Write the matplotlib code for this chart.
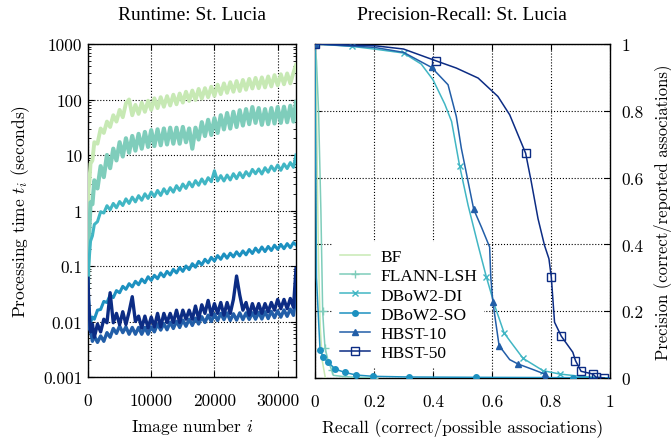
import numpy as np
import matplotlib
matplotlib.use("Agg")
import matplotlib.pyplot as plt
from matplotlib.ticker import LogLocator, NullFormatter, FixedLocator

plt.rcParams['mathtext.fontset'] = 'cm'
plt.rcParams['axes.formatter.use_mathtext'] = True

# ---- runtime data (image number vs processing time in seconds) ----
img = [0, 100, 200, 400, 700, 1000, 1500, 2000] + list(range(2500, 33000, 500)) + [32900]

t_bf = [0.7, 2.5, 3, 7, 8, 17, 16, 30, 25, 40, 32, 52, 40, 65, 48, 85, 100, 52, 80, 55,
        88, 60, 95, 65, 105, 70, 110, 74, 115, 78, 122, 82, 128, 88, 138, 94, 145, 98, 155, 104,
        160, 110, 170, 116, 185, 125, 195, 132, 205, 138, 215, 142, 225, 150, 235, 158, 245, 160, 250, 165,
        260, 172, 275, 180, 285, 188, 295, 195, 305, 420]
t_flann = [0.04, 0.25, 0.4, 1.4, 1.3, 3.5, 2.5, 6.3, 4, 10, 5.8, 13, 8, 17, 9.4, 20, 11, 22, 12, 24,
           13, 26, 14, 28, 14.5, 29, 15, 30, 15.5, 31, 16, 31, 16, 32, 17, 30, 13, 31, 19, 39,
           22, 43, 23, 46, 25, 52, 29, 57, 30, 60, 32, 64, 34, 67, 36, 73, 38, 70, 35, 67,
           36, 70, 37, 73, 38, 74, 39, 77, 40, 90]
t_dbow_di = [0.05, 0.1, 0.14, 0.28, 0.35, 0.56, 0.63, 0.95, 0.9, 1.22, 1.03, 1.34, 1.12, 1.45, 1.23, 1.62, 1.34, 1.74, 1.43, 1.85,
             1.53, 2.0, 1.65, 2.15, 1.78, 2.3, 1.87, 2.46, 2.0, 2.58, 2.14, 2.8, 2.3, 3.0, 2.5, 3.25, 2.67, 3.45, 2.85, 3.7,
             3.0, 3.9, 3.3, 5.2, 3.4, 4.25, 3.4, 4.35, 3.55, 4.6, 3.75, 4.8, 3.9, 5.0, 4.2, 5.5, 4.6, 5.6, 4.55, 5.9,
             4.9, 6.3, 5.2, 6.6, 5.3, 6.9, 5.7, 7.3, 6.0, 10]
t_dbow_so = [0.06, 0.025, 0.016, 0.0095, 0.012, 0.011, 0.016, 0.0165, 0.023, 0.022, 0.03, 0.027, 0.036, 0.033, 0.043, 0.038, 0.048, 0.042, 0.053, 0.046,
             0.058, 0.05, 0.064, 0.055, 0.068, 0.059, 0.075, 0.064, 0.08, 0.069, 0.087, 0.075, 0.094, 0.08, 0.1, 0.086, 0.11, 0.095, 0.121, 0.105,
             0.132, 0.114, 0.143, 0.123, 0.154, 0.132, 0.165, 0.138, 0.17, 0.146, 0.18, 0.152, 0.187, 0.159, 0.198, 0.168, 0.21, 0.177, 0.22, 0.182,
             0.225, 0.19, 0.237, 0.2, 0.245, 0.205, 0.253, 0.214, 0.264, 0.24]
t_hbst10 = [0.03, 0.016, 0.0075, 0.0068, 0.0044, 0.0055, 0.0042, 0.0055, 0.0044, 0.0063, 0.0052, 0.0075, 0.0061, 0.0083, 0.0063, 0.008, 0.0059, 0.0078, 0.0059, 0.0078,
            0.0059, 0.0078, 0.0059, 0.008, 0.0065, 0.009, 0.007, 0.0092, 0.0071, 0.0097, 0.0075, 0.0101, 0.0078, 0.0106, 0.0082, 0.011, 0.0085, 0.0115, 0.009, 0.0122,
            0.0096, 0.013, 0.01, 0.0136, 0.0104, 0.014, 0.0108, 0.0143, 0.0104, 0.0138, 0.0106, 0.0143, 0.0108, 0.0143, 0.0109, 0.0144, 0.011, 0.0146, 0.0111, 0.015,
            0.0113, 0.0152, 0.0117, 0.0156, 0.012, 0.0161, 0.0124, 0.0167, 0.0129, 0.03]
t_hbst50 = [0.06, 0.025, 0.014, 0.0065, 0.009, 0.0052, 0.009, 0.0065, 0.011, 0.0095, 0.033, 0.0095, 0.014, 0.0088, 0.015, 0.0088, 0.015, 0.028, 0.01, 0.0125,
            0.0076, 0.0125, 0.0076, 0.012, 0.008, 0.014, 0.008, 0.014, 0.0096, 0.014, 0.0096, 0.016, 0.0096, 0.016, 0.011, 0.016, 0.011, 0.019, 0.011, 0.02,
            0.014, 0.024, 0.013, 0.021, 0.014, 0.022, 0.013, 0.022, 0.014, 0.025, 0.066, 0.03, 0.016, 0.022, 0.013, 0.021, 0.014, 0.021, 0.014, 0.021,
            0.015, 0.022, 0.016, 0.025, 0.017, 0.025, 0.017, 0.026, 0.018, 0.09]

rt_yticks = [0.001, 0.01, 0.1, 1, 10, 100, 1000]
rt_yticklabels = ['0.001', '0.01', '0.1', '1', '10', '100', '1000']
rt_xticks = [0, 10000, 20000, 30000]

# ---- precision-recall data ----
rec_bf = [0, 0.004, 0.008, 0.012, 0.018, 0.025, 0.035]
prec_bf = [1, 0.9, 0.6, 0.35, 0.15, 0.05, 0]
rec_flann = [0, 0.005, 0.012, 0.02, 0.026, 0.03, 0.034, 0.045, 0.056, 0.062, 0.1, 0.2]
prec_flann = [1, 0.95, 0.8, 0.5, 0.2, 0.14, 0.09, 0.05, 0.025, 0.008, 0.004, 0.0]
rec_di = [0, 0.124, 0.2, 0.3, 0.36, 0.4, 0.44, 0.463, 0.49, 0.519, 0.553, 0.581, 0.609, 0.641, 0.66,
          0.705, 0.773, 0.829, 0.9, 0.95, 1.0]
prec_di = [1, 0.993, 0.985, 0.973, 0.94, 0.893, 0.82, 0.768, 0.636, 0.517, 0.397, 0.302, 0.217, 0.135, 0.112,
           0.059, 0.022, 0.012, 0.005, 0.002, 0.0]
rec_so = [0, 0.005, 0.017, 0.028, 0.045, 0.068, 0.10, 0.139, 0.197, 0.32, 0.547, 0.874, 1.0]
prec_so = [1, 0.3, 0.085, 0.062, 0.047, 0.027, 0.017, 0.009, 0.005, 0.003, 0.002, 0.001, 0.0]
rec_h10 = [0, 0.2, 0.3, 0.395, 0.451, 0.479, 0.496, 0.538, 0.565, 0.592, 0.596, 0.603, 0.624, 0.66, 0.688,
           0.74, 0.778, 0.78]
prec_h10 = [1, 0.99, 0.975, 0.93, 0.878, 0.783, 0.688, 0.505, 0.45, 0.392, 0.30, 0.227, 0.097, 0.055, 0.042,
            0.025, 0.012, 0.0]
rec_h50 = [0, 0.2, 0.3, 0.409, 0.479, 0.553, 0.620, 0.66, 0.714, 0.733, 0.756, 0.778, 0.793, 0.801, 0.812,
           0.835, 0.874, 0.883, 0.902, 0.942, 0.953, 0.981]
prec_h50 = [1, 0.995, 0.985, 0.95, 0.928, 0.898, 0.843, 0.788, 0.673, 0.588, 0.477, 0.397, 0.357, 0.302, 0.167,
            0.125, 0.077, 0.052, 0.02, 0.012, 0.002, 0.0]
pr_ticks = [0, 0.2, 0.4, 0.6, 0.8, 1]
pr_ticklabels = ['0', '0.2', '0.4', '0.6', '0.8', '1']

labels = ['BF', 'FLANN-LSH', 'DBoW2-DI', 'DBoW2-SO', 'HBST-10', 'HBST-50']
colors = ['#c7e9b4', '#7fcdbb', '#41b6c4', '#1d91c0', '#225ea8', '#0c2c84']

cm_font = 'cmr10'
times = 'Liberation Serif'
tick_fs = 12.5

fig = plt.figure(figsize=(6.71, 4.39), dpi=100)
ax1 = fig.add_axes([88 / 671, 61 / 439, 208 / 671, 333 / 439])
ax2 = fig.add_axes([315 / 671, 60 / 439, 295 / 671, 334 / 439])

# runtime panel
rt_series = [t_bf, t_flann, t_dbow_di, t_dbow_so, t_hbst10, t_hbst50]
rt_lw = [2.8, 3.0, 2.2, 2.2, 2.4, 2.4]
for vals, c, w in zip(rt_series, colors, rt_lw):
    ax1.plot(img, vals, color=c, lw=w, zorder=3)
ax1.set_yscale('log')
ax1.set_xlim(0, 32900)
ax1.set_ylim(0.001, 1000)
ax1.yaxis.set_major_locator(FixedLocator(rt_yticks))
ax1.set_yticklabels(rt_yticklabels, fontfamily=cm_font, fontsize=tick_fs)
ax1.yaxis.set_minor_locator(LogLocator(base=10, subs=np.arange(2, 10), numticks=20))
ax1.yaxis.set_minor_formatter(NullFormatter())
ax1.set_xticks(rt_xticks)
ax1.set_xticklabels([str(v) for v in rt_xticks], fontfamily=cm_font, fontsize=tick_fs)
ax1.set_xlabel('Image number $i$', fontfamily=cm_font, fontsize=tick_fs, labelpad=6)
ax1.set_ylabel('Processing time $t_i$ (seconds)', fontfamily=cm_font, fontsize=tick_fs, labelpad=8)

# precision-recall panel
markers = [None, '+', 'x', 'o', '^', 's']
msizes = [0, 6, 5, 4, 5, 5.5]
pr_data = [(rec_bf, prec_bf, None),
           (rec_flann, prec_flann, [0, 4, 6, 8, 11]),
           (rec_di, prec_di, [0, 1, 3, 8, 11, 13, 15, 16, 17]),
           (rec_so, prec_so, [0, 2, 3, 4, 5, 6, 7, 8, 9, 10, 11]),
           (rec_h10, prec_h10, [0, 3, 7, 11, 12, 14, 16, 17]),
           (rec_h50, prec_h50, [0, 3, 8, 13, 15, 17, 18, 19, 20, 21])]
for (r, p, me), c, m, ms, lab in zip(pr_data, colors, markers, msizes, labels):
    kw = dict(color=c, lw=1.1, label=lab, zorder=3)
    if m is not None:
        kw.update(marker=m, markevery=me, markersize=ms, markeredgewidth=1.0)
        if m == 's':
            kw.update(markerfacecolor='none')
    ax2.plot(r, p, **kw)
ax2.set_xlim(0, 1)
ax2.set_ylim(0, 1)
ax2.set_xticks(pr_ticks)
ax2.set_xticklabels(pr_ticklabels, fontfamily=cm_font, fontsize=tick_fs)
ax2.set_yticks(pr_ticks)
ax2.set_yticklabels(pr_ticklabels, fontfamily=cm_font, fontsize=tick_fs)
ax2.yaxis.tick_right()
ax2.yaxis.set_label_position('right')
ax2.set_xlabel('Recall (correct/possible associations)', fontfamily=cm_font, fontsize=tick_fs, labelpad=6)
ax2.set_ylabel('Precision (correct/reported associations)', fontfamily=cm_font, fontsize=12,
               labelpad=7, rotation=90)

leg = ax2.legend(loc='lower left', bbox_to_anchor=(0.043, 0.015), frameon=True, framealpha=1,
                 edgecolor='none', facecolor='white', fancybox=False, borderaxespad=0.3,
                 handlelength=1.72, handletextpad=0.63, labelspacing=0.17,
                 prop={'family': times, 'size': 12.5})
leg.set_zorder(2.5)

for ax in (ax1, ax2):
    ax.grid(True, which='major', ls=':', color='k', lw=0.8, zorder=1)
    ax.set_axisbelow(True)
    ax.tick_params(which='both', direction='in', top=True, bottom=True, left=True, right=True)
    ax.tick_params(which='major', length=4)
    ax.tick_params(which='minor', length=2)
    ax.tick_params(axis='x', pad=11)
    for s in ax.spines.values():
        s.set_linewidth(1.0)
ax1.tick_params(axis='y', pad=4)
ax2.tick_params(axis='y', pad=8)

fig.text(192 / 671, 1 - 16 / 439, 'Runtime: St. Lucia', ha='center', va='center',
         fontfamily=times, fontsize=14)
fig.text(462 / 671, 1 - 16 / 439, 'Precision-Recall: St. Lucia', ha='center', va='center',
         fontfamily=times, fontsize=14)

fig.savefig('out.png', dpi=100)
